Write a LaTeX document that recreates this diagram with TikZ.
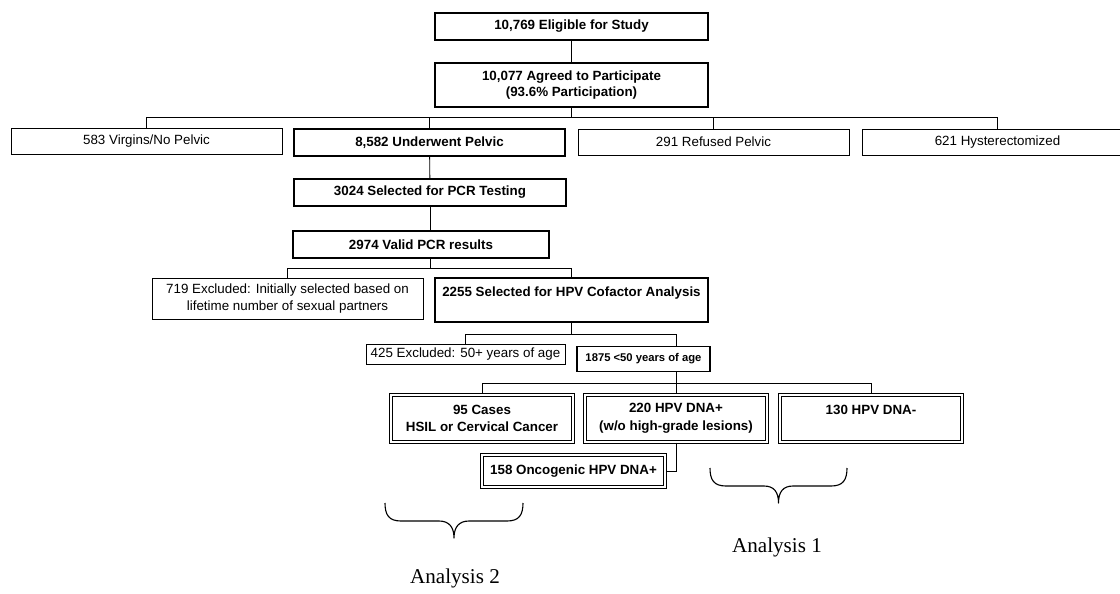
\documentclass[tikz,border=0pt]{standalone}
\usepackage{fontspec}
\setmainfont{Liberation Sans}
\newfontfamily\seriffam{Liberation Serif}

\begin{document}
\begin{tikzpicture}[x=0.025cm, y=-0.025cm, line width=0.6pt,
    every node/.style={inner sep=0pt, align=center},
    thin box/.style={draw, line width=0.6pt, font=\fontsize{9.5}{12}\selectfont},
    bold box/.style={draw, line width=1.3pt, font=\bfseries\fontsize{9.5}{12}\selectfont},
    dbl box/.style={draw, double, line width=0.8pt, double distance=1.1pt, font=\bfseries\fontsize{9.5}{12.5}\selectfont},
    curly/.style={line width=0.8pt, line join=round},
    caption/.style={font=\seriffam\fontsize{15}{18}\selectfont}]
  \useasboundingbox (0,0) rectangle (1120,593);

  \node[bold box, minimum width=6.825cm, minimum height=0.675cm] (eligible)  at (571.5,26.5) {10,769 Eligible for Study};
  \node[bold box, minimum width=6.825cm, minimum height=1.1cm]   (agreed)    at (571.5,85)   {10,077 Agreed to Participate\\(93.6\% Participation)};
  \node[thin box, minimum width=6.775cm, minimum height=0.65cm]  (virgins)   at (146.5,141.5) {583 Virgins/No Pelvic};
  \node[bold box, minimum width=6.775cm, minimum height=0.675cm] (underwent) at (429.5,142.5) {8,582 Underwent Pelvic};
  \node[thin box, minimum width=6.775cm, minimum height=0.65cm]  (refused)   at (713.5,142)   {291 Refused Pelvic};
  \node[thin box, minimum width=6.775cm, minimum height=0.65cm]  (hyster)    at (997.5,142)   {621 Hysterectomized};
  \node[bold box, minimum width=6.8cm, minimum height=0.675cm]   (pcr)       at (430,192.5)   {3024 Selected for PCR Testing};
  \node[bold box, minimum width=6.4cm, minimum height=0.675cm]   (valid)     at (421,244.5)   {2974 Valid PCR results};
  \node[thin box, minimum width=6.775cm, minimum height=1.025cm] (excl1)     at (287.5,298.5) {719 Excluded: Initially selected based on\\lifetime number of sexual partners};
  \node[bold box, minimum width=6.825cm, minimum height=1.1cm]   (cofactor)  at (571.5,300)   {2255 Selected for HPV Cofactor Analysis\\\mbox{}};
  \node[thin box, minimum width=4.975cm, minimum height=0.5cm]   (excl2)     at (465.5,354)   {425 Excluded: 50+ years of age};
  \node[bold box, minimum width=3.325cm, minimum height=0.625cm,
        font=\bfseries\fontsize{8}{10}\selectfont]              (young)     at (643.5,359)   {1875 <50 years of age};
  \node[dbl box, minimum width=4.55cm, minimum height=1.175cm]   (cases)     at (482,418.5)   {95 Cases\\HSIL or Cervical Cancer};
  \node[dbl box, minimum width=4.55cm, minimum height=1.175cm]   (hpvpos)    at (676,418.5)   {220 HPV DNA+\\(w/o high-grade lesions)};
  \node[dbl box, minimum width=4.55cm, minimum height=1.175cm]   (hpvneg)    at (871,418.5)   {130 HPV DNA-\\\mbox{}};
  \node[dbl box, minimum width=4.575cm, minimum height=0.8cm]    (onco)      at (573.5,471)   {158 Oncogenic HPV DNA+};

  \coordinate (split1) at (571.5,117);
  \coordinate (split2) at (430,268);
  \coordinate (split3) at (571.5,334);
  \coordinate (split4) at (676,383);

  \draw (eligible) -- (agreed);
  \draw (agreed) -- (split1);
  \foreach \n in {virgins,underwent,refused,hyster}
    \draw (split1) -| (\n);
  \draw (underwent) -- (pcr);
  \draw (pcr) -- (pcr |- valid.north);
  \draw (pcr |- valid.south) -- (split2);
  \draw (split2) -| (excl1);
  \draw (split2) -| (cofactor);
  \draw (cofactor) -- (split3);
  \draw (split3) -| (excl2);
  \draw (split3) -| (split4 |- young.north);
  \draw (split4 |- young.south) -- (split4);
  \foreach \n in {cases,hpvpos,hpvneg}
    \draw (split4) -| (\n);
  \draw (hpvpos) |- (onco);

  % braces under the groups
  \draw[curly] (710,468) .. controls (710,480) and (714,486) .. (726,486) -- (764,486)
               .. controls (774,486) and (778.5,492) .. (778.5,503)
               .. controls (778.5,492) and (783,486) .. (793,486) -- (831,486)
               .. controls (843,486) and (847,480) .. (847,468);
  \draw[curly] (385,503) .. controls (385,515) and (389,521) .. (401,521) -- (439,521)
               .. controls (449,521) and (454,527) .. (454,538)
               .. controls (454,527) and (459,521) .. (469,521) -- (507,521)
               .. controls (519,521) and (523,515) .. (523,503);
  \node[caption] (analysis1) at (777,547) {Analysis 1};
  \node[caption] (analysis2) at (455,578) {Analysis 2};
\end{tikzpicture}
\end{document}
